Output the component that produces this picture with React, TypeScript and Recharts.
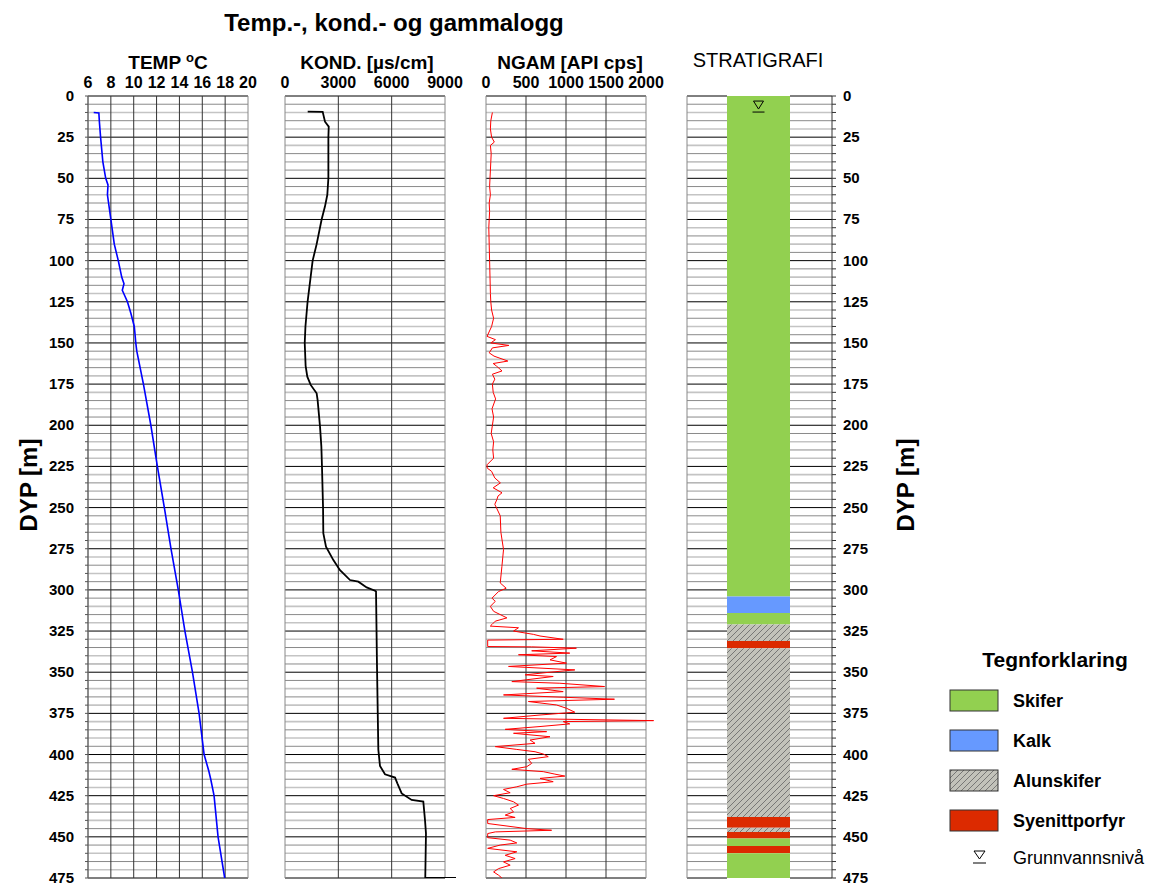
import React from "react";
import {
  LineChart,
  ComposedChart,
  Line,
  XAxis,
  YAxis,
  ReferenceLine,
  ReferenceArea,
  ReferenceDot,
} from "recharts";

const W = 1176;
const H = 886;
const TOP = 96;
const BOTTOM = 878;
const FONT = '"Liberation Sans", Arial, Helvetica, sans-serif';

// depth grid, every 5 m (labels every 25 m)
const depthTicks = [
  0, 5, 10, 15, 20, 25, 30, 35, 40, 45, 50, 55, 60, 65, 70, 75, 80, 85, 90, 95, 100, 105, 110, 115, 120,
  125, 130, 135, 140, 145, 150, 155, 160, 165, 170, 175, 180, 185, 190, 195, 200, 205, 210, 215, 220, 225,
  230, 235, 240, 245, 250, 255, 260, 265, 270, 275, 280, 285, 290, 295, 300, 305, 310, 315, 320, 325, 330,
  335, 340, 345, 350, 355, 360, 365, 370, 375, 380, 385, 390, 395, 400, 405, 410, 415, 420, 425, 430, 435,
  440, 445, 450, 455, 460, 465, 470, 475,
];

const tempTicks = [6, 8, 10, 12, 14, 16, 18, 20];
const kondTicks = [0, 3000, 6000, 9000];
const ngamTicks = [0, 500, 1000, 1500, 2000];

// [depth m, temp °C]
const tempLog: [number, number][] = [
  [10, 6.5], [10.3, 6.95], [16, 7.0], [25, 7.1], [40, 7.3], [50, 7.55], [54, 7.75], [60, 7.7],
  [75, 8.0], [90, 8.3], [100, 8.65], [110, 8.95], [114, 9.15], [118, 9.0], [125, 9.45], [132, 9.75],
  [140, 10.05], [145, 10.12], [150, 10.18], [155, 10.27], [175, 10.85], [200, 11.5], [225, 12.07],
  [250, 12.68], [275, 13.26], [300, 13.9], [325, 14.48], [350, 15.14], [375, 15.72], [400, 16.16],
  [410, 16.57], [415, 16.74], [425, 17.03], [450, 17.38], [475, 17.96],
];

// [depth m, conductivity µS/cm]
const kondLog: [number, number][] = [
  [9.5, 1277], [9.6, 2120], [15.6, 2250], [18.6, 2460], [25, 2440], [50, 2440], [60, 2380], [67, 2250],
  [75, 2060], [90, 1780], [100, 1555], [125, 1270], [140, 1150], [150, 1110], [164, 1160], [170.5, 1255],
  [175.5, 1445], [180.6, 1780], [184.7, 1835], [200.8, 1970], [213, 2045], [225, 2080], [250, 2140],
  [265.6, 2155], [273.8, 2306], [281.9, 2720], [288, 3094], [290, 3280], [294, 3656], [295, 4125],
  [298.5, 4594], [300.5, 5063], [301, 5120], [346.5, 5175], [397, 5250], [407, 5344], [412, 5625],
  [414, 6190], [417.5, 6320], [423.6, 6563], [427.6, 7125], [428.6, 7780], [439.8, 7875], [447.9, 7930],
  [474.8, 7890], [475, 9620],
];

// [depth m, natural gamma API cps]
const ngamLog: [number, number][] = [
  [10, 80], [15, 60], [20, 55], [25, 70], [28, 104], [30, 55], [35, 65], [40, 60], [50, 50], [55, 45],
  [60, 55], [65, 40], [70, 45], [75, 40], [80, 35], [90, 40], [100, 45], [110, 50], [120, 55], [125, 60],
  [130, 70], [135, 95], [140, 70], [146, 13], [148, 118], [150, 60], [151.5, 286], [153, 80], [156, 40],
  [158, 100], [161, 273], [162.5, 90], [164, 130], [167, 200], [169, 80], [172, 110], [175, 80], [180, 90],
  [184, 120], [190, 75], [195, 95], [200, 80], [205, 65], [210, 95], [215, 85], [220, 95], [224, 13],
  [226, 15], [228, 70], [232, 110], [235, 180], [238, 90], [241, 200], [243, 150], [245, 137], [248, 110],
  [255, 178], [265, 186], [275.5, 219], [285.7, 199], [295.8, 178], [299, 252], [301, 157], [305, 75],
  [307, 116], [310, 54], [313, 95], [317, 261], [319, 116], [321, 75], [322, 54], [323, 406], [325, 344],
  [327, 592], [328, 675], [330, 965], [330.5, 21], [334.4, 21], [334.6, 571], [335.4, 1130], [337, 571],
  [338.4, 1047], [339.4, 406], [340.5, 882], [342.5, 800], [344.5, 1006], [346.5, 282], [348.6, 1110],
  [350.2, 758], [351.6, 489], [352.6, 840], [355.7, 323], [356.7, 923], [358.7, 1482], [359.7, 633],
  [361.8, 965], [363.8, 219], [365.2, 965], [366.4, 1606], [367.8, 530], [369.9, 882], [371.9, 1006],
  [374.3, 1110], [376, 675], [378, 219], [379.4, 2095], [380, 965], [381.4, 1047], [383, 675], [384.7, 240],
  [386.1, 758], [387.1, 344], [389.2, 800], [391.2, 551], [393.2, 613], [395.2, 116], [396.9, 385],
  [398.3, 613], [399.7, 716], [401.3, 778], [402.9, 530], [405.4, 571], [407.4, 509], [409, 323],
  [410.4, 716], [411.9, 861], [413.1, 985], [414.5, 675], [416.5, 840], [418, 509], [419.6, 385],
  [421.2, 219], [423.2, 302], [425, 95], [426.7, 219], [428.7, 344], [430.7, 406], [432.8, 302],
  [434.8, 344], [436.8, 240], [438.2, 364], [439.5, 21], [441.9, 21], [445, 509], [446, 820], [447, 116],
  [448, 21], [450.5, 21], [452, 302], [453.7, 385], [455, 178], [457, 21], [459.1, 385], [461.2, 240],
  [463.2, 364], [465.2, 219], [467.2, 302], [469.3, 157], [471.3, 95], [473.3, 157], [475, 199],
];

// stratigraphy
const stratTop = [0, 304, 314, 321, 331, 335.5, 438, 444.5, 447, 451, 455.5, 460];
const stratBase = [304, 314, 321, 331, 335.5, 438, 444.5, 447, 451, 455.5, 460, 475];
const stratRock = [
  "Skifer", "Kalk", "Skifer", "Alunskifer", "Syenittporfyr", "Alunskifer",
  "Syenittporfyr", "Alunskifer", "Syenittporfyr", "Skifer", "Syenittporfyr", "Skifer",
];
const rockNames = ["Skifer", "Kalk", "Alunskifer", "Syenittporfyr"];
const groundwater = 5.5;

const rockColor: Record<string, string> = {
  Skifer: "#92d050",
  Kalk: "#6699ff",
  Alunskifer: "#c2c2ba",
  Syenittporfyr: "#dc2a00",
};

const gridColor = (d: number) => (d % 25 === 0 ? "#000" : d % 10 === 0 ? "#c4c4c4" : "#8a8a8a");
const gridWidth = (d: number) => (d % 25 === 0 ? 1 : d % 10 === 0 ? 1.6 : 1);

const tickFont = { fontSize: 15, fontWeight: "bold" as const, fill: "#000", fontFamily: FONT };

const DepthTick = (props: any) => {
  const { x, y, payload, textAnchor } = props;
  if (payload.value % 25 !== 0) return <g />;
  return (
    <text x={x} y={y} dy={5} textAnchor={textAnchor} {...tickFont}>
      {payload.value}
    </text>
  );
};

type TrackProps = {
  log: [number, number][];
  left: number;
  gridRight: number;
  right: number;
  min: number;
  max: number;
  ticks: number[];
  color: string;
  lineWidth: number;
  depthAxis?: boolean;
};

function LogTrack({ log, left, gridRight, right, min, max, ticks, color, lineWidth, depthAxis }: TrackProps) {
  const data = log.map(([d, v]) => ({ d, v }));
  // plot area runs a bit past the grid so that overshooting values still show
  const domMax = min + ((max - min) * (right - left)) / (gridRight - left);
  const axisW = 60;
  return (
    <div style={{ position: "absolute", left: 0, top: 0 }}>
      <LineChart
        layout="vertical"
        width={W}
        height={H}
        data={data}
        margin={{ top: TOP - 30, bottom: H - BOTTOM, left: depthAxis ? left - axisW : left, right: W - right }}
      >
        <XAxis
          type="number"
          orientation="top"
          domain={[min, domMax]}
          allowDataOverflow
          ticks={ticks}
          interval={0}
          height={30}
          axisLine={false}
          tickLine={false}
          tickSize={0}
          tickMargin={8}
          tick={{ ...tickFont, fontSize: 16 }}
        />
        {/* vertical layout already runs the y range top to bottom */}
        <YAxis
          type="number"
          dataKey="d"
          domain={[0, 475]}
          allowDataOverflow
          ticks={depthTicks}
          interval={0}
          hide={!depthAxis}
          width={axisW}
          tickSize={3}
          tickMargin={11}
          axisLine={{ stroke: "#555" }}
          tickLine={{ stroke: "#555" }}
          tick={DepthTick}
        />
        {depthTicks.map((d) => (
          <ReferenceLine
            key={"h" + d}
            segment={[{ x: min, y: d }, { x: max, y: d }]}
            stroke={gridColor(d)}
            strokeWidth={gridWidth(d)}
          />
        ))}
        {ticks.map((t, i) => (
          <ReferenceLine
            key={"v" + t}
            x={t}
            stroke={i === 0 || i === ticks.length - 1 ? "#888" : "#333"}
          />
        ))}
        <Line dataKey="v" stroke={color} strokeWidth={lineWidth} dot={false} isAnimationActive={false} />
      </LineChart>
    </div>
  );
}

const WaterMark = (props: any) => {
  const { cx, cy } = props;
  return (
    <g>
      <path d={`M${cx - 5},${cy - 4} L${cx + 5},${cy - 4} L${cx},${cy + 4} Z`} fill="none" stroke="#000" />
      <line x1={cx - 6} x2={cx + 6} y1={cy + 7} y2={cy + 7} stroke="#000" />
    </g>
  );
};

function StratTrack() {
  const left = 687;
  const right = 832;
  const colL = 40;
  const colR = 103;
  return (
    <div style={{ position: "absolute", left: 0, top: 0 }}>
      <ComposedChart
        width={W}
        height={H}
        data={[{ x: 0, d: 0 }]}
        margin={{ top: TOP, bottom: H - BOTTOM, left, right: W - right - 60 }}
      >
        <defs>
          <pattern id="alunHatch" patternUnits="userSpaceOnUse" width="6" height="6">
            <rect width="6" height="6" fill="#c2c2ba" />
            <path d="M0,6 L6,0 M-1,1 L1,-1 M5,7 L7,5" stroke="#6e6e6e" strokeWidth="0.9" />
          </pattern>
        </defs>
        <XAxis type="number" dataKey="x" domain={[0, right - left]} allowDataOverflow hide />
        <YAxis
          type="number"
          dataKey="d"
          orientation="right"
          domain={[0, 475]}
          reversed
          allowDataOverflow
          ticks={depthTicks}
          interval={0}
          width={60}
          tickSize={4}
          tickMargin={7}
          axisLine={{ stroke: "#333" }}
          tickLine={{ stroke: "#333" }}
          tick={DepthTick}
        />
        {depthTicks.map((d) => (
          <ReferenceLine
            key={"l" + d}
            segment={[{ x: 0, y: d }, { x: colL, y: d }]}
            stroke={gridColor(d)}
            strokeWidth={gridWidth(d)}
          />
        ))}
        {depthTicks.map((d) => (
          <ReferenceLine
            key={"r" + d}
            segment={[{ x: colR, y: d }, { x: right - left, y: d }]}
            stroke={gridColor(d)}
            strokeWidth={gridWidth(d)}
          />
        ))}
        <ReferenceLine x={0} stroke="#888" />
        {stratTop.map((t, i) => (
          <ReferenceArea
            key={"s" + i}
            x1={colL}
            x2={colR}
            y1={t}
            y2={stratBase[i]}
            fill={stratRock[i] === "Alunskifer" ? "url(#alunHatch)" : rockColor[stratRock[i]]}
            fillOpacity={1}
            stroke="none"
          />
        ))}
        <ReferenceDot x={(colL + colR) / 2} y={groundwater} r={5} shape={WaterMark} />
      </ComposedChart>
    </div>
  );
}

export default function App() {
  const legendY = [690, 730, 770, 810];
  return (
    <div style={{ position: "absolute", left: 0, top: 0, width: W, height: H, background: "#fff", fontFamily: FONT }}>
      <LogTrack log={tempLog} left={88} gridRight={248} right={248} min={6} max={20} ticks={tempTicks} color="#0000ff" lineWidth={1.6} depthAxis />
      <LogTrack log={kondLog} left={285} gridRight={445} right={460} min={0} max={9000} ticks={kondTicks} color="#000" lineWidth={1.8} />
      <LogTrack log={ngamLog} left={486} gridRight={646} right={662} min={0} max={2000} ticks={ngamTicks} color="#ff0000" lineWidth={1} />
      <StratTrack />
      <svg width={W} height={H} style={{ position: "absolute", left: 0, top: 0, pointerEvents: "none" }} fontFamily={FONT}>
        <defs>
          <pattern id="legHatch" patternUnits="userSpaceOnUse" width="6" height="6">
            <rect width="6" height="6" fill="#c2c2ba" />
            <path d="M0,6 L6,0 M-1,1 L1,-1 M5,7 L7,5" stroke="#6e6e6e" strokeWidth="0.9" />
          </pattern>
        </defs>
        <text x={394} y={31} textAnchor="middle" fontSize={24} fontWeight="bold">
          Temp.-, kond.- og gammalogg
        </text>
        <text x={168} y={69} textAnchor="middle" fontSize={19} fontWeight="bold">
          TEMP{"  "}
          <tspan fontSize={13} dy={-7}>o</tspan>
          <tspan dy={7}>C</tspan>
        </text>
        <text x={367} y={69} textAnchor="middle" fontSize={19} fontWeight="bold">
          KOND. [µs/cm]
        </text>
        <text x={570} y={69} textAnchor="middle" fontSize={19} fontWeight="bold">
          NGAM [API cps]
        </text>
        <text x={758} y={67} textAnchor="middle" fontSize={20}>
          STRATIGRAFI
        </text>
        <text x={37} y={485} textAnchor="middle" fontSize={24} fontWeight="bold" transform="rotate(-90 37 485)">
          DYP{"  "}[m]
        </text>
        <text x={914} y={485} textAnchor="middle" fontSize={24} fontWeight="bold" transform="rotate(-90 914 485)">
          DYP{"  "}[m]
        </text>
        <text x={1055} y={667} textAnchor="middle" fontSize={21} fontWeight="bold">
          Tegnforklaring
        </text>
        {rockNames.map((name, i) => (
          <g key={name}>
            <rect
              x={950}
              y={legendY[i]}
              width={48}
              height={21}
              fill={name === "Alunskifer" ? "url(#legHatch)" : rockColor[name]}
              stroke="#333"
            />
            <text x={1013} y={legendY[i] + 17} fontSize={18} fontWeight="bold">
              {name}
            </text>
          </g>
        ))}
        <path d="M974,851 L985,851 L979.5,859 Z" fill="none" stroke="#000" />
        <line x1={973} x2={986} y1={863} y2={863} stroke="#000" />
        <text x={1013} y={864} fontSize={18}>
          Grunnvannsnivå
        </text>
      </svg>
    </div>
  );
}
